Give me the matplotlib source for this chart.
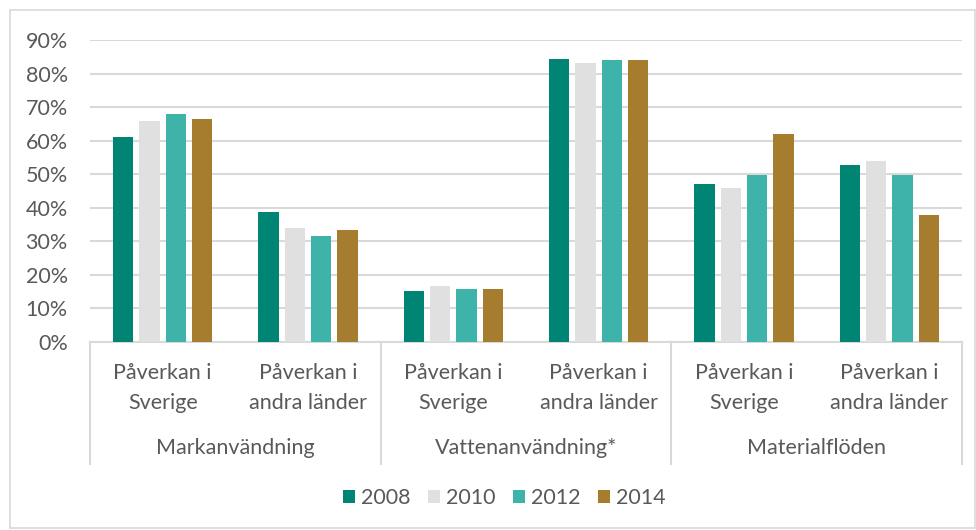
import matplotlib.pyplot as plt
from matplotlib.patches import Rectangle
import matplotlib.transforms as mtransforms
from matplotlib.ticker import FuncFormatter

# data
groups = ["Markanvändning", "Vattenanvändning*", "Materialflöden"]
line1 = ["Påverkan i"] * 6
line2 = ["Sverige", "andra länder"] * 3
years = ["2008", "2010", "2012", "2014"]
v2008 = [0.611, 0.386, 0.153, 0.844, 0.472, 0.526]
v2010 = [0.659, 0.339, 0.166, 0.831, 0.459, 0.538]
v2012 = [0.680, 0.317, 0.157, 0.840, 0.499, 0.499]
v2014 = [0.664, 0.335, 0.158, 0.839, 0.619, 0.379]
colors = ["#008575", "#E0E0E0", "#3EB3AA", "#A67C2E"]

plt.rcParams['font.family'] = ['Lato', 'DejaVu Sans']
txt = "#595959"
grid = "#D9D9D9"
fs = 15.5

fig = plt.figure(figsize=(9.76, 5.30), dpi=100)
ax = fig.add_axes([90/976, 1-342/530, 872/976, 302/530])

series = [v2008, v2010, v2012, v2014]
pitch = 0.181
width = 0.14
for j, vals in enumerate(series):
    xs = [i + 0.5 + (j - 1.5)*pitch for i in range(len(vals))]
    ax.bar(xs, vals, width=width, color=colors[j], label=years[j], zorder=3)

ax.set_xlim(0, 6)
ax.set_ylim(0, 0.9)
ax.set_yticks([i/10 for i in range(10)])
ax.yaxis.set_major_formatter(FuncFormatter(lambda v, p: f"{v*100:.0f}%"))
ax.tick_params(axis='y', length=0, labelsize=fs, colors=txt, pad=16)
ax.set_xticks([])
ax.grid(axis='y', color=grid, lw=1.5, zorder=0)
for s in ["top", "right", "left"]:
    ax.spines[s].set_visible(False)
ax.spines["bottom"].set_color(grid)
ax.spines["bottom"].set_linewidth(1.5)

trans = mtransforms.blended_transform_factory(ax.transData, ax.transAxes)
for xb in [0, 2, 4, 6]:
    ax.plot([xb, xb], [0, -0.404], color=grid, lw=1.5, transform=trans, clip_on=False)
for i in range(6):
    ax.text(i + 0.5, -0.1026, line1[i], transform=trans, ha='center', va='center',
            fontsize=fs, color=txt)
    ax.text(i + 0.5, -0.202, line2[i], transform=trans, ha='center', va='center',
            fontsize=fs, color=txt)
for g, name in enumerate(groups):
    ax.text(2*g + 1, -0.351, name, transform=trans, ha='center', va='center',
            fontsize=fs, color=txt)

leg = fig.legend(loc='center', bbox_to_anchor=(504/976, 1-498/530), ncol=4, frameon=False,
                 fontsize=fs, handlelength=0.6, handleheight=0.6, handletextpad=0.25,
                 columnspacing=0.8)
for t in leg.get_texts():
    t.set_color(txt)

fig.patches.append(Rectangle((10/976, 2/530), 965/976, 518/530, transform=fig.transFigure,
                             fill=False, edgecolor=grid, lw=1.2))

fig.savefig("out.png", dpi=100)
